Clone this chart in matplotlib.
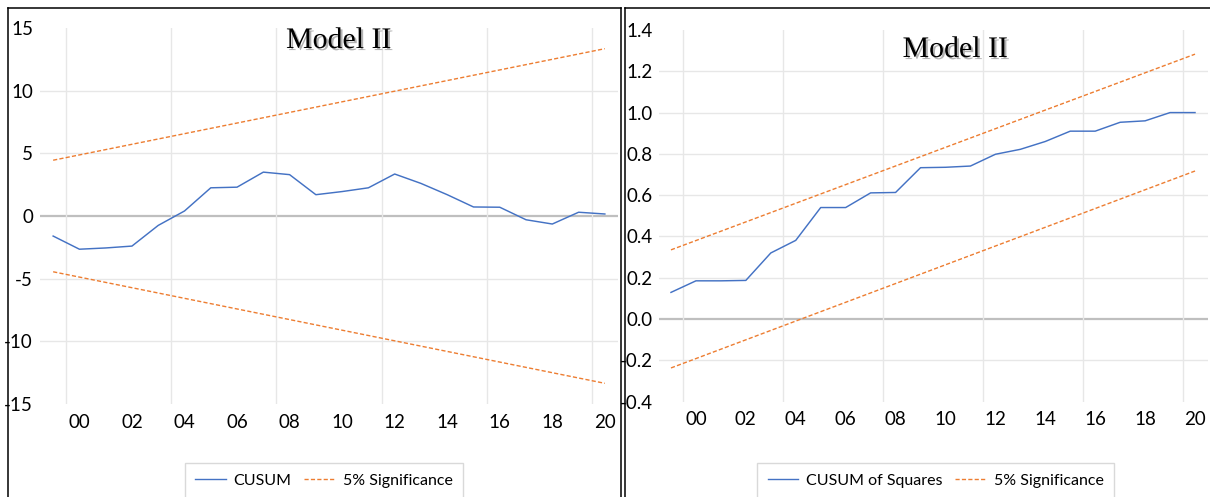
import matplotlib
matplotlib.use('Agg')
import matplotlib.pyplot as plt
from matplotlib import patheffects
from matplotlib.lines import Line2D
import numpy as np

# data
years = list(range(1999, 2021))
cusum = [-1.6, -2.65, -2.55, -2.4, -0.75, 0.4, 2.25, 2.3, 3.5, 3.3, 1.7,
         1.95, 2.25, 3.35, 2.6, 1.7, 0.72, 0.7, -0.3, -0.64, 0.3, 0.16]
cusum_sq = [0.129, 0.185, 0.185, 0.187, 0.32, 0.381, 0.54, 0.54, 0.611, 0.613, 0.733,
            0.735, 0.741, 0.798, 0.822, 0.86, 0.91, 0.91, 0.953, 0.96, 1.0, 1.0]
sig_years = [1999, 2020]  # bands are straight lines, two ends are enough
cusum_upper = [4.45, 13.35]
cusum_lower = [-4.45, -13.35]
sq_upper = [0.335, 1.283]
sq_lower = [-0.237, 0.717]

left_ticks = [-15, -10, -5, 0, 5, 10, 15]
right_ticks = [-0.4, -0.2, 0.0, 0.2, 0.4, 0.6, 0.8, 1.0, 1.2, 1.4]

BLUE = '#4472c4'
ORANGE = '#ed7d31'
GRID = '#e7e7e7'
W, H = 1210, 497
NARROW = ['Lato', 'DejaVu Sans']

fig = plt.figure(figsize=(W / 100, H / 100), dpi=100)


def px_box(l, t, r, b):  # pixel box -> figure fraction
    return [l / W, 1 - b / H, (r - l) / W, (b - t) / H]


def style(ax, ticks, fmt, ypad):
    ax.set_xlim(years[0] - 0.5, years[-1] + 0.5)
    ax.set_ylim(ticks[0], ticks[-1])
    ax.set_yticks(ticks)
    ax.set_yticklabels([fmt(v) for v in ticks], family=NARROW, size=13.5)
    ax.set_xticks(years[1::2])
    ax.set_xticklabels(['%02d' % (y % 100) for y in years[1::2]], family=NARROW, size=13.5)
    ax.set_xticks(np.arange(years[0] + 0.5, years[-1], 4), minor=True)
    ax.grid(axis='x', which='minor', color=GRID, lw=1)
    for v in ticks[1:-1]:
        if v != 0:
            ax.axhline(v, color=GRID, lw=1, zorder=0)
    ax.axhline(0, color='#bfbfbf', lw=1.6, zorder=1)
    ax.tick_params(which='both', length=0)
    ax.tick_params(axis='y', pad=ypad)
    ax.tick_params(axis='x', pad=7)
    for s in ax.spines.values():
        s.set_visible(False)


ax1 = fig.add_axes(px_box(40, 28, 618, 404))
style(ax1, left_ticks, lambda v: '%d' % v, 5)
ax1.plot(years, cusum, color=BLUE, lw=1.05, zorder=3)
ax1.plot(sig_years, cusum_upper, color=ORANGE, lw=1.0, dashes=(3, 1.6), zorder=3)
ax1.plot(sig_years, cusum_lower, color=ORANGE, lw=1.0, dashes=(3, 1.6), zorder=3)

ax2 = fig.add_axes(px_box(658.5, 30, 1207.5, 401.6))
style(ax2, right_ticks, lambda v: '%.1f' % v, 4)
ax2.plot(years, cusum_sq, color=BLUE, lw=1.05, zorder=3)
ax2.plot(sig_years, sq_upper, color=ORANGE, lw=1.0, dashes=(3, 1.6), zorder=3)
ax2.plot(sig_years, sq_lower, color=ORANGE, lw=1.0, dashes=(3, 1.6), zorder=3)

# legends
for ax, name, cx in [(ax1, 'CUSUM', 324), (ax2, 'CUSUM of Squares', 935.5)]:
    h = [Line2D([], [], color=BLUE, lw=1.0),
         Line2D([], [], color=ORANGE, lw=1.0, dashes=(3, 1.6))]
    leg = ax.legend(h, [name, '5% Significance'], loc='upper center',
                    bbox_to_anchor=(cx / W, 1 - 463 / H), bbox_transform=fig.transFigure,
                    ncol=2, prop=dict(family=NARROW, size=11.5), fancybox=False,
                    edgecolor='#d9d9d9', framealpha=1, handlelength=1.9,
                    handletextpad=0.5, columnspacing=0.8, borderpad=0.65,
                    borderaxespad=0)
    leg.get_frame().set_linewidth(1.0)

# titles with a soft shadow
for cx, base in [(338.5, 48), (955, 57)]:
    fig.text(cx / W, 1 - base / H, 'Model II', ha='center', va='baseline',
             fontsize=21.5, family=['Liberation Serif', 'DejaVu Serif'],
             path_effects=[patheffects.withSimplePatchShadow(offset=(1.5, -1.5),
                                                             shadow_rgbFace='k', alpha=0.3)])

# panel borders
def fline(xs, ys):
    fig.add_artist(Line2D([x / W for x in xs], [1 - y / H for y in ys],
                          color='black', lw=1.1, transform=fig.transFigure))


fline([8, 8], [8, 497])
fline([8, 621], [8, 8])
fline([621, 621], [8, 497])
fline([624.5, 624.5], [8, 497])
fline([624.5, 1210], [8, 8])

fig.savefig('out.png', dpi=100)
